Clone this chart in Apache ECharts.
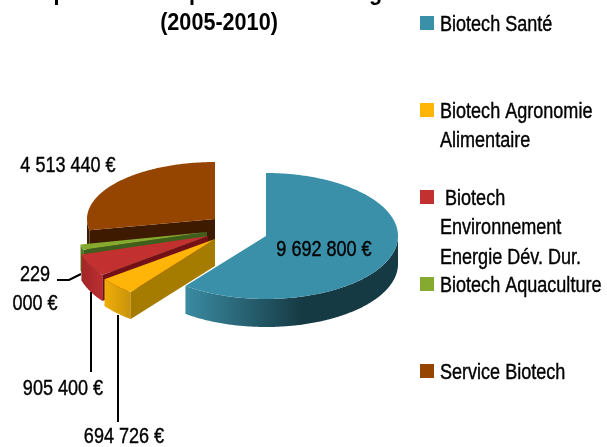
<!DOCTYPE html>
<html>
<head>
<meta charset="utf-8">
<style>html,body{margin:0;padding:0;background:#fff}#main{width:607px;height:447px}</style>
<script src="https://cdn.jsdelivr.net/npm/echarts@6/dist/echarts.min.js"></script>
</head>
<body>
<div id="main"></div>
<script>
var sliceNames = ['Biotech Santé', 'Biotech Agronomie Alimentaire', 'Biotech Environnement Energie Dév. Dur.', 'Biotech Aquaculture', 'Service Biotech'];
var sliceValues = [9692800, 694726, 905400, 229000, 4513440];
var titleText = 'Répartition des parts de technologies\n(2005-2010)';

// 图例文字分行
var legendLines = [
    ['Biotech Santé'],
    ['Biotech Agronomie', 'Alimentaire'],
    [' Biotech', 'Environnement', 'Energie Dév. Dur.'],
    ['Biotech Aquaculture'],
    ['Service Biotech']
];

// 每块的外观：分离后的圆心、椭圆半径、厚度
var sliceShape = [
    { cx: 266, cy: 236, rx: 132, ry: 63, depth: 28 },
    { cx: 215, cy: 239, rx: 138, ry: 67, depth: 27 },
    { cx: 208, cy: 236, rx: 132, ry: 65, depth: 26 },
    { cx: 207, cy: 232, rx: 129, ry: 63, depth: 26 },
    { cx: 215, cy: 219, rx: 128, ry: 57, depth: 28 }
];
var topColors = ['#3a90a9', '#ffb508', '#c33030', '#86aa2f', '#964500'];
var wallColors = [['#3a8ba2', '#163a44'], ['#f0ae08', '#c8920a'], ['#a02628', '#bd2e30'], ['#5d8420', '#4a6c1a'], ['#3d1a00', '#3d1a00']];
var cutColors = ['#2a6577', '#a67c00', '#741018', '#3f5f1c', '#3d1a00'];

// 数值标签位置和引线
var labelPos = [[324, 250], [124, 437], [63, 389], [35, 289], [68, 166]];
var leaderLines = [
    null,
    [[118, 315], [118, 422]],
    [[91, 292], [91, 372]],
    [[57, 280], [69, 280], [81, 274]],
    null
];
var labelOverride = { 3: '229\n000 €' };

var LABEL_FONT = '"Liberation Sans", sans-serif';
var TEXT_SQUEEZE = 0.82; // 没有窄体字体，横向压缩

// 累计角度（顺时针，从12点开始）
var total = sliceValues.reduce(function (a, b) { return a + b; }, 0);
var startAngles = [];
var acc = 0;
sliceValues.forEach(function (v) {
    startAngles.push(acc);
    acc += v / total * 360;
});

function pt(s, deg, dy) {
    var r = deg * Math.PI / 180;
    return [s.cx + s.rx * Math.sin(r), s.cy - s.ry * Math.cos(r) + (dy || 0)];
}

function arcPts(s, a0, a1, dy) {
    var pts = [];
    var n = Math.max(2, Math.ceil((a1 - a0) * 1.5));
    for (var i = 0; i <= n; i++) {
        pts.push(pt(s, a0 + (a1 - a0) * i / n, dy));
    }
    return pts;
}

function cutFace(s, deg, color) {
    var p = pt(s, deg);
    return {
        type: 'polygon',
        shape: { points: [[s.cx, s.cy], p, [p[0], p[1] + s.depth], [s.cx, s.cy + s.depth]] },
        style: { fill: color }
    };
}

function formatEuro(v) {
    return String(v).replace(/\B(?=(\d{3})+$)/g, ' ') + ' €';
}

function renderSlice(params, api) {
    var i = api.value(0);
    var s = sliceShape[i];
    var a0 = startAngles[i];
    var a1 = a0 + api.value(1) / total * 360;
    var children = [];

    // 外侧弧面
    var w0 = Math.max(a0, 90);
    var w1 = Math.min(a1, 270);
    if (w1 > w0) {
        children.push({
            type: 'polygon',
            shape: { points: arcPts(s, w0, w1).concat(arcPts(s, w0, w1, s.depth).reverse()) },
            style: {
                fill: new echarts.graphic.LinearGradient(0, 0, 1, 0, [
                    { offset: 0, color: wallColors[i][0] },
                    { offset: i === 0 ? 0.55 : 1, color: wallColors[i][1] },
                    { offset: 1, color: wallColors[i][1] }
                ])
            }
        });
    }
    // 切面
    if (Math.sin(a0 * Math.PI / 180) < -0.001) children.push(cutFace(s, a0, cutColors[i]));
    if (Math.sin(a1 * Math.PI / 180) > 0.001) children.push(cutFace(s, a1, cutColors[i]));
    // 顶面
    children.push({
        type: 'polygon',
        shape: { points: [[s.cx, s.cy]].concat(arcPts(s, a0, a1)) },
        style: { fill: topColors[i] }
    });
    return { type: 'group', children: children };
}

function renderLabel(params, api) {
    var i = api.value(0);
    var children = [{
        type: 'text',
        x: labelPos[i][0],
        y: labelPos[i][1],
        scaleX: TEXT_SQUEEZE,
        style: {
            text: labelOverride[i] || formatEuro(api.value(1)),
            font: '22px ' + LABEL_FONT,
            fill: '#000',
            stroke: '#000',
            lineWidth: 0.4,
            align: 'center',
            verticalAlign: 'middle',
            lineHeight: 29
        }
    }];
    if (leaderLines[i]) {
        children.push({
            type: 'polyline',
            shape: { points: leaderLines[i] },
            style: { stroke: '#000', lineWidth: 2, fill: null }
        });
    }
    return { type: 'group', children: children };
}

// 标题（第一行被画面顶部裁掉，只露出下缘）和图例
var pageGraphics = [{
    type: 'text',
    x: 219,
    y: -22,
    scaleX: 0.9,
    style: {
        text: titleText,
        font: 'bold 24px ' + LABEL_FONT,
        fill: '#000',
        align: 'center',
        lineHeight: 30
    }
}];
legendLines.forEach(function (lines, i) {
    var y = 23 + i * 87;
    pageGraphics.push({
        type: 'rect',
        shape: { x: 420, y: y - 7, width: 14, height: 14 },
        style: { fill: topColors[i] }
    });
    pageGraphics.push({
        type: 'text',
        x: 440,
        y: y - 13,
        scaleX: TEXT_SQUEEZE,
        style: {
            text: lines.join('\n'),
            font: '22px ' + LABEL_FONT,
            fill: '#000',
            stroke: '#000',
            lineWidth: 0.4,
            lineHeight: 29.5
        }
    });
});

var sliceData = sliceValues.map(function (v, i) { return [i, v]; }).reverse();

var myChart = echarts.init(document.getElementById('main'));
var option = {
    animation: false,
    backgroundColor: '#fff',
    graphic: pageGraphics,
    series: [
        { type: 'custom', name: 'slices', coordinateSystem: 'none', renderItem: renderSlice, data: sliceData, silent: true, z: 2 },
        { type: 'custom', name: 'labels', coordinateSystem: 'none', renderItem: renderLabel, data: sliceData, silent: true, z: 3 }
    ]
};
myChart.setOption(option);
</script>
</body>
</html>
